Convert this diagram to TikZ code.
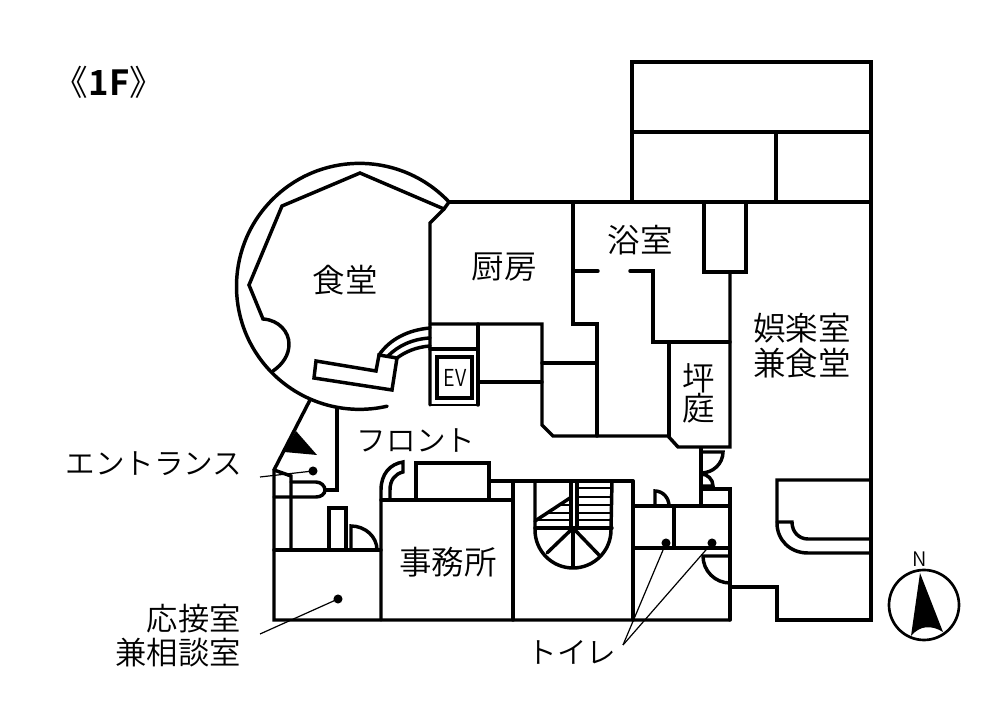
\documentclass[tikz,border=0pt]{standalone}
\usepackage{fontspec}
\newfontfamily\cjk[UprightFont=* DemiLight,BoldFont=* Bold]{Noto Sans CJK JP}
\usetikzlibrary{positioning}
\tikzset{
  wall/.style={line width=2.6pt,line cap=round,line join=miter},
  thinwall/.style={line width=1.2pt},
  leader/.style={line width=.9pt},
  dotmark/.style={circle,fill=black,inner sep=0pt,minimum size=6.8pt},
  roomlabel/.style={font=\cjk\fontsize{24.4}{26.2}\selectfont,align=center,inner sep=0pt},
  kanalabel/.style={font=\cjk\fontsize{22.2}{26}\selectfont,inner sep=0pt}
}
\begin{document}
\begin{tikzpicture}[x=.75pt,y=.75pt,yscale=-1]
\useasboundingbox (0,0) rectangle (1001,723);
%the round dining room
  \draw[wall] (449,202) arc[start angle=-43.3,end angle=-283,radius=123];
  \draw[wall] (449,202) -- (444,209) -- (360,173) -- (282,206) -- (249,285) -- (263,319)
     .. controls (279,320) and (289,332) .. (289,344) .. controls (289,355) and (283,364) .. (273,371);
%the bench and its curved steps
  \draw[wall] (316,361) -- (376,371) -- (379,355) -- (397,358) -- (392,390) -- (314,378) -- cycle;
  \draw[wall] (379,355) .. controls (390,339) and (408,330) .. (430,328);
  \draw[wall] (388,356) .. controls (398,346) and (412,339) .. (430,338);
  \draw[wall] (397,358) .. controls (405,352) and (416,347) .. (430,346);
%the kitchen and the outer walls
  \draw[wall] (449,202) -- (871,202);
  \draw[wall] (444,209) -- (430,223) -- (430,405);
  \draw[wall] (430,324) -- (542,324) -- (542,425) -- (553,436) -- (668,436) -- (678,447) -- (730,447) -- (730,272);
  \draw[wall] (573,202) -- (573,324) -- (597,324) -- (597,436);
  \draw[wall] (542,363) -- (597,363);
  \draw[wall] (478,382) -- (542,382);
  \draw[wall] (573,271) -- (598,271);
  \draw[wall] (630,271) -- (653,271) -- (653,342) -- (730,342);
  \draw[wall] (669,342) -- (669,436);
  \draw[wall] (704,202) -- (704,272) -- (746,272) -- (746,202);
%the elevator
  \draw[wall] (430,349) -- (478,349);
  \draw[wall] (478,324) -- (478,405);
  \draw[thinwall] (430,405) -- (478,405);
  \draw[wall] (437,357) rectangle (472,398);
%the annex at the top
  \draw[wall] (632,202) -- (632,62) -- (871,62) -- (871,620) -- (777,620) -- (777,587) -- (730,587);
  \draw[wall] (632,132) -- (871,132);
  \draw[wall] (776,132) -- (776,202);
%the bath on the right
  \draw[wall] (871,480) -- (777,480) -- (777,523) .. controls (777,540) and (790,553) .. (808,553) -- (871,553);
  \draw[wall] (777,522) -- (792,522) .. controls (792,532) and (799,539) .. (808,539) -- (871,539);
%the entrance
  \draw[wall] (310,400) -- (274,470) -- (274,620) -- (730,620);
  \draw[wall] (337,408) -- (337,490) -- (325,490);
  \draw[wall] (291,482) -- (316,482) .. controls (321,482) and (325,486) .. (325,490)
     .. controls (325,494) and (321,497) .. (316,497) -- (274,497);
  \draw[wall] (274,470) -- (291,476) -- (291,550);
  \draw[wall] (274,550) -- (381,550);
  \draw[wall] (329,550) -- (329,508) -- (346,508) -- (346,550);
  \draw[wall] (351,550) -- (351,526) arc[start angle=-90,end angle=0,x radius=26,y radius=24];
  \fill (296,431) -- (317,455) -- (284,452) -- cycle;
%the office
  \draw[wall] (381,620) -- (381,490) .. controls (381,474) and (390,464) .. (403,462) -- (403,472)
     .. controls (395,474) and (390,480) .. (390,490) -- (390,500);
  \draw[wall] (381,500) -- (513,500);
  \draw[wall] (416,500) -- (416,463) -- (489,463) -- (489,500);
  \draw[wall] (489,481) -- (633,481);
  \draw[wall] (513,481) -- (513,620);
  \draw[wall] (633,481) -- (633,620);
%the stairs
  \draw[wall] (535,481) -- (535,530) arc[start angle=180,end angle=0,radius=38] -- (612,481);
  \draw[wall] (571,481) -- (571,528);
  \draw[wall] (577,481) -- (577,528);
  \draw[wall] (535,521) -- (570,498);
  \draw[wall] (535,528) -- (612,528);
  \foreach \treadY in {488,497,505,513,520}
    \draw[line width=2pt] (577,\treadY) -- (612,\treadY);
  \draw[line width=2pt] (559,505) -- (571,505);
  \draw[line width=2pt] (548,513) -- (571,513);
  \draw[line width=2pt] (537,520) -- (571,520);
  \draw[wall] (573,528) -- (547,553);
  \draw[wall] (573,528) -- (573,567);
  \draw[wall] (573,528) -- (599,555);
%the toilets and their doors
  \draw[wall] (633,506) -- (730,506);
  \draw[wall] (633,548) -- (730,548);
  \draw[wall] (674,506) -- (674,548);
  \draw[wall] (655,506) -- (655,491) arc[start angle=-90,end angle=0,x radius=14,y radius=15];
  \draw[wall] (701,448) -- (701,506);
  \draw[wall] (701,489) -- (730,489) -- (730,620);
  \draw[wall] (701,452) -- (723,452) arc[start angle=0,end angle=90,x radius=22,y radius=21];
  \draw[wall] (701,474) arc[start angle=-90,end angle=0,radius=12] -- (701,486);
  \draw[wall] (730,556) -- (703,556) arc[start angle=180,end angle=90,radius=27];
%the leaders
  \node[dotmark] (dotEnt) at (313,471) {};
  \node[dotmark] (dotRecep) at (338,599) {};
  \node[dotmark] (dotToilA) at (666,543) {};
  \node[dotmark] (dotToilB) at (712,543) {};
  \coordinate (endEnt) at (260,477);
  \coordinate (endRecep) at (260,634);
  \coordinate (endToil) at (623,645);
  \draw[leader] (dotEnt.center) -- (endEnt);
  \draw[leader] (dotRecep.center) -- (endRecep);
  \draw[leader] (dotToilA.center) -- (endToil);
  \draw[leader] (dotToilB.center) -- (endToil);
%the room names
  \node[font=\cjk\fontsize{26}{28}\selectfont,inner sep=0pt] (title) at (109,82) {《\textbf{1F}》};
  \node[roomlabel] (dining) at (345,280) {食堂};
  \node[roomlabel] (kitchen) at (504,267) {厨房};
  \node[roomlabel] (bath) at (640,240) {浴室};
  \node[roomlabel] (hall) at (802,345.5) {娯楽室\\兼食堂};
  \node[roomlabel,font=\cjk\fontsize{24.4}{22.6}\selectfont] (court) at (699,393) {坪\\庭};
  \node[roomlabel] (office) at (448,562) {事務所};
  \node[kanalabel] (front) at (416,441) {フロント};
  \node[kanalabel] (entrance) at (154,464) {エントランス};
  \node[kanalabel] (toilet) at (572,652) {トイレ};
  \node[roomlabel,font=\cjk\fontsize{23.5}{25.4}\selectfont,align=right,anchor=east] (guest) at (241,635.5) {応接室\\兼相談室};
  \node[font=\cjk\fontsize{17.5}{18}\selectfont,inner sep=0pt] (evlabel) at (455,378) {\scalebox{.85}[1]{EV}};
%the compass
  \draw[line width=2pt] (924,605) circle[radius=35];
  \fill (920,573) -- (943,632) .. controls (932,625) and (920,625) .. (911,636) -- cycle;
  \node[font=\cjk\fontsize{15}{18}\selectfont,inner sep=0pt] (north) at (920,559) {N};
\end{tikzpicture}
\end{document}
